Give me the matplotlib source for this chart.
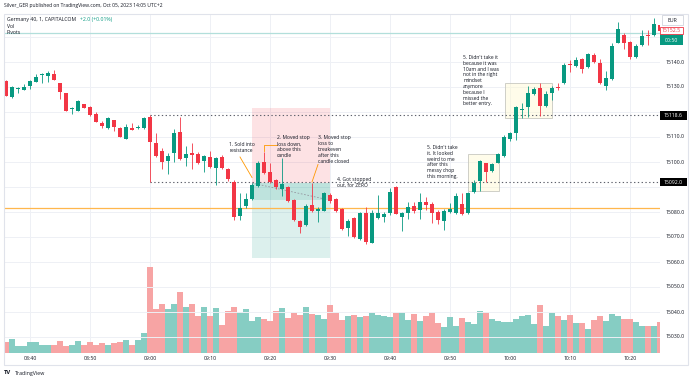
import matplotlib
matplotlib.use("Agg")
import matplotlib.pyplot as plt
from matplotlib.patches import Rectangle

plt.rcParams['font.family'] = ['Open Sans', 'DejaVu Sans']

# ---------------- data ----------------
start_time = "08:36"
opens  = [15132.5,15126.0,15129.4,15129.0,15130.5,15132.0,15134.9,15134.5,15135.2,15131.6,
          15127.6,15121.1,15120.5,15123.1,15122.0,15119.2,15115.7,15113.5,15116.7,15113.6,
          15109.3,15113.6,15113.5,15113.5,15118.1,15107.5,15104.5,15100.5,15103.5,15112.0,
          15101.5,15103.5,15103.3,15100.4,15102.1,15097.5,15102.0,15097.2,15092.1,15078.4,
          15082.4,15085.2,15090.4,15100.1,15096.1,15092.8,15089.0,15089.9,15084.8,15076.5,
          15074.8,15082.8,15080.4,15080.5,15086.8,15085.1,15081.1,15073.5,15077.5,15069.1,
          15079.5,15067.7,15077.5,15078.0,15079.7,15089.9,15077.9,15079.7,15082.5,15080.8,
          15084.1,15083.1,15080.0,15076.4,15080.0,15079.7,15083.2,15079.5,15088.1,15092.5,
          15099.5,15096.5,15099.7,15102.4,15109.1,15111.5,15121.0,15121.9,15127.2,15129.6,
          15122.4,15127.7,15130.1,15131.5,15139.2,15138.4,15141.1,15138.1,15142.9,15139.7,
          15130.4,15133.1,15147.7,15150.8,15148.1,15141.9,15146.8,15150.9,15150.8,15155.0]
highs  = [15133.0,15130.4,15130.1,15131.2,15132.8,15135.2,15135.5,15136.3,15136.8,15131.6,
          15127.7,15121.9,15124.8,15123.3,15122.3,15120.1,15116.4,15118.0,15117.0,15113.9,
          15115.1,15115.6,15114.7,15118.0,15118.6,15111.5,15105.5,15103.5,15113.1,15118.1,
          15106.4,15107.5,15104.1,15102.8,15104.5,15101.9,15102.7,15097.8,15092.8,15087.5,
          15087.7,15091.7,15100.5,15104.1,15099.5,15093.1,15101.5,15090.4,15085.1,15076.8,
          15083.2,15091.5,15081.9,15088.0,15087.5,15085.5,15081.5,15077.0,15078.0,15080.0,
          15082.0,15080.8,15086.8,15080.0,15089.8,15090.2,15080.1,15084.1,15084.1,15087.5,
          15086.1,15084.1,15080.8,15081.1,15083.5,15087.5,15087.5,15088.1,15092.8,15100.8,
          15099.7,15099.7,15103.5,15110.8,15112.1,15122.4,15123.5,15130.4,15130.1,15131.5,
          15128.5,15130.4,15131.5,15139.7,15140.8,15142.1,15141.5,15143.7,15143.5,15141.1,
          15136.5,15147.5,15156.1,15151.5,15148.5,15147.2,15152.8,15152.8,15157.5,15156.0]
lows   = [15126.3,15125.8,15127.7,15128.9,15129.2,15132.0,15131.7,15131.9,15132.6,15125.3,
          15120.4,15119.3,15120.3,15121.5,15118.5,15116.0,15113.7,15113.3,15112.5,15109.9,
          15109.3,15112.8,15113.4,15113.3,15092.0,15102.1,15097.2,15095.2,15100.1,15100.8,
          15098.4,15097.2,15099.2,15096.1,15097.5,15090.8,15097.1,15092.5,15076.8,15076.8,
          15081.5,15084.8,15089.9,15095.2,15091.7,15089.1,15086.4,15084.1,15076.5,15071.7,
          15074.4,15080.1,15076.1,15080.3,15083.5,15080.1,15072.8,15070.4,15069.5,15068.8,
          15067.0,15067.5,15077.0,15076.0,15078.8,15079.0,15072.5,15077.1,15079.7,15077.1,
          15080.8,15075.7,15075.2,15072.8,15079.5,15079.1,15078.9,15079.2,15087.7,15088.5,
          15092.1,15096.1,15099.5,15102.1,15108.5,15108.8,15117.5,15118.1,15126.8,15118.4,
          15121.9,15124.8,15128.8,15131.2,15136.1,15138.1,15135.5,15137.5,15139.5,15131.2,
          15128.8,15132.8,15147.5,15145.1,15141.1,15141.5,15146.5,15146.8,15150.5,15152.0]
closes = [15126.5,15130.1,15129.6,15130.1,15132.5,15134.1,15135.2,15135.6,15132.7,15128.1,
          15120.5,15121.4,15124.5,15121.6,15118.7,15116.0,15114.5,15117.6,15114.1,15110.0,
          15114.1,15112.9,15114.1,15117.6,15108.1,15102.5,15100.1,15102.5,15111.5,15101.1,
          15103.2,15102.8,15099.5,15102.4,15097.9,15101.5,15097.5,15093.0,15078.1,15081.5,
          15085.1,15090.8,15099.8,15095.5,15092.1,15089.9,15091.0,15084.4,15076.8,15073.9,
          15082.4,15080.4,15081.1,15087.5,15084.5,15080.5,15073.1,15076.5,15069.9,15079.5,
          15068.1,15079.7,15079.5,15079.0,15088.1,15079.2,15079.7,15081.9,15080.4,15084.1,
          15082.8,15079.5,15076.8,15080.4,15081.1,15086.5,15079.2,15087.5,15091.7,15100.4,
          15096.1,15099.2,15103.2,15109.9,15111.5,15121.9,15121.3,15127.5,15129.2,15122.4,
          15127.2,15129.7,15129.7,15138.7,15138.8,15140.8,15137.2,15143.1,15140.0,15131.7,
          15133.5,15146.4,15153.1,15147.7,15142.1,15146.5,15150.4,15150.4,15155.2,15152.5]
volumes = [11.0,13.7,6.7,6.7,10.7,10.7,8.0,8.0,7.3,12.0,
           7.0,8.0,12.0,8.0,10.7,7.3,10.0,8.0,10.0,10.7,
           12.7,8.0,12.7,19.7,85.3,43.7,48.3,44.0,48.3,60.7,
           45.7,48.7,37.0,45.7,37.0,45.0,27.3,42.0,45.7,40.3,
           43.3,31.7,35.7,33.7,32.0,41.7,44.7,34.3,39.7,37.7,
           45.7,39.0,38.0,33.7,48.0,39.7,33.0,36.7,37.7,35.3,
           36.7,39.7,37.7,36.7,36.0,39.7,40.7,32.3,39.0,31.7,
           37.0,40.7,29.3,26.0,35.7,26.7,34.3,31.0,28.3,42.0,
           40.3,33.7,31.7,30.7,31.0,33.3,36.3,37.7,29.0,48.0,
           26.7,40.0,36.3,32.3,38.0,30.0,29.3,23.3,32.7,37.0,
           31.7,38.7,36.7,33.3,33.3,30.7,26.7,26.7,26.7,30.7]
time_labels = ["08:40", "08:50", "09:00", "09:10", "09:20", "09:30",
               "09:40", "09:50", "10:00", "10:10", "10:20"]
price_ticks = [15140.0, 15130.0, 15110.0, 15100.0, 15080.0, 15070.0,
               15060.0, 15050.0, 15040.0, 15030.0]
grid_prices = [15150, 15140, 15130, 15120, 15110, 15100, 15090, 15080,
               15070, 15060, 15050, 15040, 15030]
level_hi = 15118.6
level_lo = 15092.0
pivot_orange = 15081.5
pivot_teal = 15151.6
last_price = 15152.5

# ---------------- helpers ----------------
W, H = 690, 381
GREEN = '#089981'
RED = '#F23645'
VGREEN = '#86cdc3'
VRED = '#f7a4a4'
TXT = '#131722'


def tmin(s):
    h, m = s.split(':')
    return int(h) * 60 + int(m)


base = tmin("08:40")
x0 = tmin(start_time) - base
xs = [x0 + i for i in range(len(opens))]

fig = plt.figure(figsize=(W / 100, H / 100), dpi=100)
fig.patch.set_facecolor('white')

L, R, T, B = 4, 660, 14, 352.7
rect = [L / W, 1 - B / H, (R - L) / W, (B - T) / H]
xlim = ((L - 30) / 6, (R - 30) / 6)
ylim = (15140 - (B - 62) / 2.5, 15140 - (T - 62) / 2.5)

axv = fig.add_axes(rect)
axv.set_xlim(*xlim)
axv.set_ylim(0, B - T)
axv.axis('off')

ax = fig.add_axes(rect)
ax.set_xlim(*xlim)
ax.set_ylim(*ylim)
ax.patch.set_visible(False)
for s in ax.spines.values():
    s.set_visible(False)
ax.set_xticks([])
ax.set_yticks([])

# grid
for lab in time_labels:
    gx = tmin(lab) - base
    axv.axvline(gx, color='#eef0f5', lw=0.7, zorder=0)
for gp in grid_prices:
    ax.axhline(gp, color='#eef0f5', lw=0.7, zorder=0)

# volume
vcol = [VGREEN if c >= o else VRED for o, c in zip(opens, closes)]
axv.bar(xs, volumes, width=0.86, color=vcol, zorder=1, linewidth=0)

# position tool
ent_m0, ent_m1 = 37, 50
ax.add_patch(Rectangle((ent_m0, 15091.6), ent_m1 - ent_m0, 30.0,
                       facecolor=(242/255, 54/255, 69/255, 0.14), edgecolor='none', zorder=1))
ax.add_patch(Rectangle((ent_m0, 15061.6), ent_m1 - ent_m0, 30.0,
                       facecolor=(8/255, 153/255, 129/255, 0.14), edgecolor='none', zorder=1))
ax.add_patch(Rectangle((ent_m0, 15084.8), ent_m1 - ent_m0, 6.8,
                       facecolor=(8/255, 153/255, 129/255, 0.14), edgecolor='none', zorder=1))
ax.plot([ent_m0, ent_m1 - 0.5], [15091.6, 15085.0], color='#9598a1', lw=0.6,
        ls=(0, (2, 2)), zorder=2)

# yellow boxes
for (m0, m1, p0, p1) in [(73, 78.2, 15088.4, 15103.2), (79.2, 87, 15117.6, 15131.6)]:
    ax.add_patch(Rectangle((m0, p0), m1 - m0, p1 - p0, facecolor=(1, 0.98, 0.82, 0.45),
                           edgecolor='#c8c8c0', lw=0.6, zorder=1))

# pivot lines
ax.axhline(pivot_orange, color='#ffb74d', lw=0.9, zorder=2)
ax.axhline(pivot_teal, color='#b2dfdb', lw=0.9, zorder=2)

# dotted level lines
for lv in (level_hi, level_lo):
    ax.plot([20, xlim[1]], [lv, lv], color='#5d606b', lw=0.8, ls=(0, (1.2, 2.2)), zorder=2)

# candles
ccol = [GREEN if c >= o else RED for o, c in zip(opens, closes)]
ax.vlines(xs, lows, highs, colors=ccol, lw=0.6, zorder=3)
bh = [max(abs(c - o), 0.25) for o, c in zip(opens, closes)]
bb = [min(o, c) for o, c in zip(opens, closes)]
ax.bar(xs, bh, bottom=bb, width=0.64, color=ccol, zorder=4, linewidth=0)

# annotations
ann_fs = 3.6
ann = dict(fontsize=ann_fs, color=TXT, va='top', ha='left', linespacing=1.2, zorder=6)
ax.text(33.2, 15107.8, "1. Sold into\nresistance", **ann)
ax.plot([35.0, 37.0], [15102.0, 15093.8], color='#ff9800', lw=0.6, zorder=5)
ax.text(41.2, 15110.6, "2. Moved stop\nloss down,\nabove this\ncandle", **ann)
ax.plot([41.2, 39.0, 39.0], [15106.8, 15106.8, 15104.3], color='#ff9800', lw=0.6, zorder=5)
ax.text(48.0, 15110.6, "3. Moved stop\nloss to\nbreakeven\nafter this\ncandle closed", **ann)
ax.plot([48.0, 47.0], [15099.0, 15092.0], color='#ff9800', lw=0.6, zorder=5)
ax.text(51.2, 15094.0, "4. Got stopped\nout, for ZERO", **ann)
ax.text(66.2, 15106.8, "5. Didn't take\nit. It looked\nweird to me\nafter this\nmessy chop\nthis morning.", **ann)
ax.text(72.2, 15142.8, "5. Didn't take it\nbecause it was\n10am and I was\nnot in the right\nmindset\nanymore\nbecause I\nmissed the\nbetter entry.", **ann)

# ---------------- figure-level decorations ----------------
def P(x, y):
    return (x / W, 1 - y / H)


def frect(x0_, y0_, x1_, y1_, **kw):
    fig.patches.append(Rectangle(P(x0_, y1_), (x1_ - x0_) / W, (y1_ - y0_) / H,
                                 transform=fig.transFigure, **kw))


frect(4, 14, 688, 365, facecolor='none', edgecolor='#e0e3eb', lw=0.8)

fs = 3.7
fig.text(*P(4, 6), "Silver_GER published on TradingView.com, Oct 05, 2023 14:05 UTC+2",
         fontsize=3.6, color=TXT, va='center', ha='left')
fig.text(*P(7, 19), "Germany 40, 1, CAPITALCOM", fontsize=fs, color=TXT, va='center')
fig.text(*P(80, 19), "+2.0 (+0.01%)", fontsize=fs, color=GREEN, va='center')
fig.text(*P(7, 26), "Vol", fontsize=fs, color=TXT, va='center')
fig.text(*P(7, 33), "Pivots", fontsize=fs, color=TXT, va='center')

for p in price_ticks:
    yy = 62 - (p - 15140) * 2.5
    fig.text(*P(666, yy), f"{p:.1f}", fontsize=fs, color=TXT, va='center', ha='left')

for lv in (level_hi, level_lo):
    yy = 62 - (lv - 15140) * 2.5
    frect(660, yy - 4.5, 687, yy + 4.5, facecolor='black', edgecolor='none')
    fig.text(*P(673.5, yy), f"{lv:.1f}", fontsize=fs, color='white', va='center', ha='center')

frect(662, 15, 683, 25, facecolor='white', edgecolor='#d1d4dc', lw=0.6)
fig.text(*P(672.5, 20), "EUR", fontsize=fs, color=TXT, va='center', ha='center')
frect(660, 34, 683, 45, facecolor=GREEN, edgecolor='none')
fig.text(*P(671.5, 40), "00:50", fontsize=fs, color='white', va='center', ha='center')
frect(660, 27, 683, 34, facecolor='white', edgecolor=RED, lw=0.6)
fig.text(*P(671.5, 30.5), f"{last_price:.1f}", fontsize=fs, color=RED, va='center', ha='center')

for lab in time_labels:
    xx = 30 + 6 * (tmin(lab) - base)
    fig.text(*P(xx, 359), lab, fontsize=fs, color=TXT, va='center', ha='center')

fig.text(*P(4, 373), "TV", fontsize=4.2, color=TXT, va='center', ha='left', fontweight='bold')
fig.text(*P(15, 373), "TradingView", fontsize=3.8, color=TXT, va='center', ha='left')

fig.savefig("out.png", dpi=100, facecolor='white')
